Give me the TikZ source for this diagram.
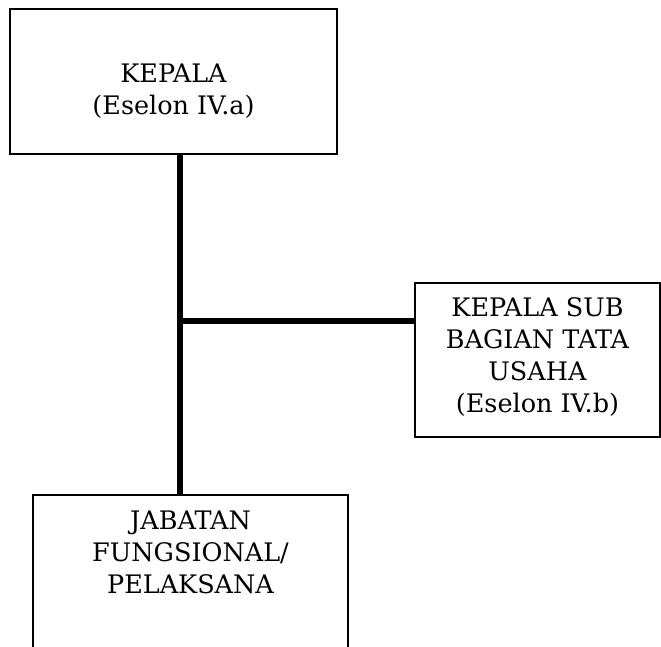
\documentclass[tikz,border=0pt]{standalone}
\usepackage{fontspec}
\setmainfont{DejaVu Serif}
\usetikzlibrary{positioning}
\tikzset{
  orgbox/.style={rectangle, draw=black, line width=1.6pt, fill=white,
                 align=center, font=\fontsize{25.5}{32}\selectfont,
                 inner sep=0pt, anchor=north},
  orgline/.style={black, line width=5.5pt},
}

\begin{document}
\begin{tikzpicture}[x=1pt, y=-1pt]
    \useasboundingbox (0,0) rectangle (661,647);
    \clip (0,0) rectangle (661,647);
    \node[orgbox, minimum width=327pt, text height=106pt, text depth=39pt]
      (kepala) at (173.5,8) {KEPALA\\(Eselon IV.a)};
    \node[orgbox, minimum width=245pt, text height=130pt, text depth=24pt]
      (kasubag) at (537.5,282) {KEPALA SUB\\BAGIAN TATA\\USAHA\\(Eselon IV.b)};
    \node[orgbox, minimum width=315pt, text height=99pt, text depth=200pt]
      (jafung) at (190.5,494) {JABATAN\\FUNGSIONAL/\\PELAKSANA};
    \coordinate (cabang) at (180,321);
    \draw[orgline] (kepala.south -| cabang) -- (jafung.north -| cabang);
    \draw[orgline] (cabang) -- (kasubag.west |- cabang);
  \end{tikzpicture}
\end{document}
